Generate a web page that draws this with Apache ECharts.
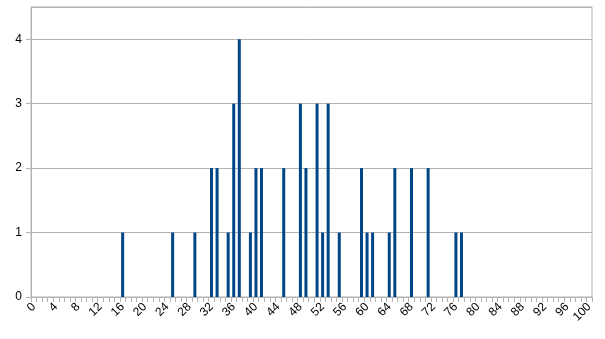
<!DOCTYPE html>
<html>
<head>
<meta charset="utf-8">
<script src="https://cdn.jsdelivr.net/npm/echarts@6/dist/echarts.min.js"></script>
<style>
html,body{margin:0;padding:0;background:#fff;}
#chart{width:605px;height:339px;}
</style>
</head>
<body>
<div id="chart"></div>
<script>
// categories 0..100
const categories = [];
for (let i = 0; i <= 100; i++) categories.push(String(i));
// observed counts (category -> value)
const barPositions = [16, 25, 29, 32, 33, 35, 36, 37, 39, 40, 41, 45, 48, 49, 51, 52, 53, 55, 59, 60, 61, 64, 65, 68, 71, 76, 77];
const barValues    = [ 1,  1,  1,  2,  2,  1,  3,  4,  1,  2,  2,  2,  3,  2,  3,  1,  3,  1,  2,  1,  1,  1,  2,  2,  2,  1,  1];
const yTicks = [0, 1, 2, 3, 4];

const seriesData = categories.map(() => null);
barPositions.forEach((p, i) => { seriesData[p] = barValues[i]; });

const chart = echarts.init(document.getElementById('chart'), null, {renderer: 'canvas'});
chart.setOption({
  animation: false,
  backgroundColor: '#ffffff',
  grid: {left: 31, right: 13, top: 7, bottom: 42, show: true, borderColor: '#b3b3b3', borderWidth: 1},
  xAxis: {
    type: 'category',
    data: categories,
    boundaryGap: true,
    axisLine: {lineStyle: {color: '#b3b3b3'}},
    axisTick: {show: true, interval: 0, length: 5, lineStyle: {color: '#b3b3b3'}},
    axisLabel: {interval: 3, rotate: 45, color: '#000', fontFamily: 'Liberation Sans', fontSize: 12, margin: 8},
    splitLine: {show: false}
  },
  yAxis: {
    type: 'value',
    min: 0, max: 4.5, interval: 1,
    axisLine: {show: true, lineStyle: {color: '#b3b3b3'}},
    axisTick: {show: true, length: 5, lineStyle: {color: '#b3b3b3'}},
    axisLabel: {color: '#000', fontFamily: 'Liberation Sans', fontSize: 12, margin: 9, showMaxLabel: false,
      formatter: v => (yTicks.indexOf(v) >= 0 ? String(v) : '')},
    splitLine: {show: true, lineStyle: {color: '#b3b3b3'}}
  },
  series: [{
    type: 'bar',
    data: seriesData,
    barWidth: 3,
    itemStyle: {color: '#004586'}
  }]
});
</script>
</body>
</html>
